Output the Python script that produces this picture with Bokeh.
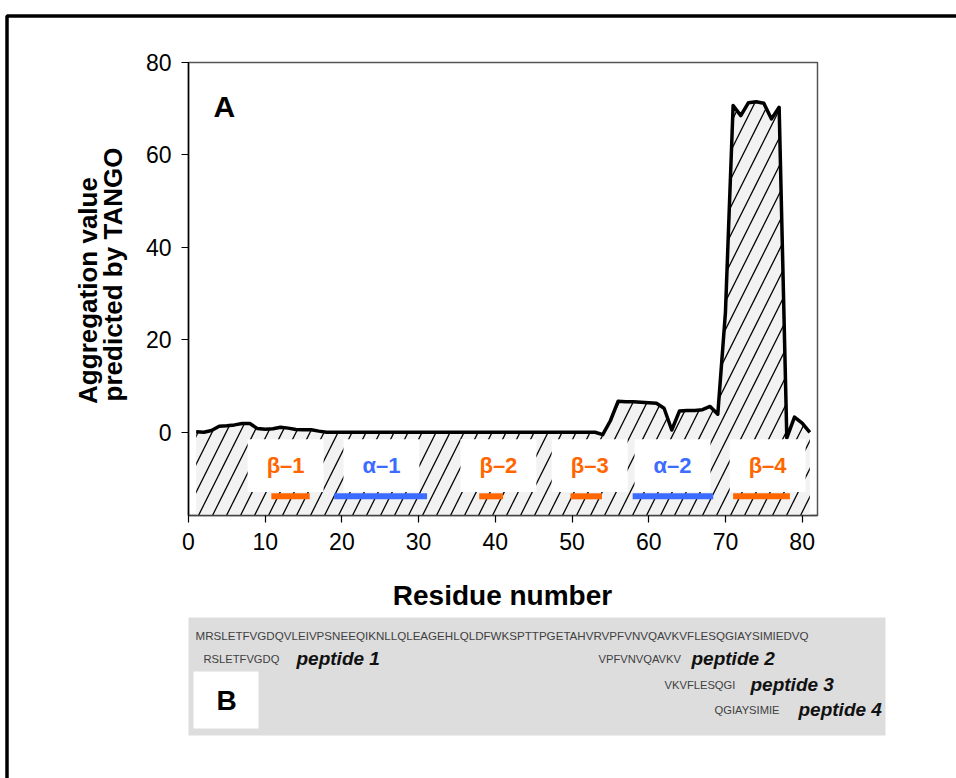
import math

from bokeh.core.properties import value
from bokeh.embed import file_html
from bokeh.models import BoxAnnotation, FixedTicker, Label, LinearAxis, Range1d
from bokeh.plotting import figure
from bokeh.resources import INLINE

# ---- TANGO aggregation profile, one value per residue -------------------
residues = list(range(1, 82))
tango = [
    0.1, 0.0, 0.4, 1.3, 1.4, 1.6, 1.9, 1.9, 0.8, 0.65,      # 1-10
    0.75, 1.1, 0.9, 0.6, 0.55, 0.55, 0.25, 0.0, 0.0, 0.0,   # 11-20
    0.0, 0.0, 0.0, 0.0, 0.0, 0.0, 0.0, 0.0, 0.0, 0.0,       # 21-30
    0.0, 0.0, 0.0, 0.0, 0.0, 0.0, 0.0, 0.0, 0.0, 0.0,       # 31-40
    0.0, 0.0, 0.0, 0.0, 0.0, 0.0, 0.0, 0.0, 0.0, 0.0,       # 41-50
    0.0, 0.0, 0.0, -0.5, 2.5, 6.7, 6.6, 6.6, 6.5, 6.4,      # 51-60
    6.3, 5.2, 0.5, 4.6, 4.7, 4.7, 4.9, 5.6, 3.9, 26.0,      # 61-70
    70.7, 68.5, 71.3, 71.5, 71.2, 67.8, 70.3, -1.2, 3.3, 2.0,  # 71-80
    0.0,                                                     # 81
]

# ---- secondary structure elements --------------------------------------
elements = ["β–1", "α–1", "β–2", "β–3", "α–2", "β–4"]
element_kind = ["beta", "alpha", "beta", "beta", "alpha", "beta"]
element_start = [10.8, 19.0, 37.9, 49.8, 57.9, 71.0]
element_end = [15.8, 31.1, 41.0, 53.9, 68.4, 78.4]
label_center = [12.66, 25.15, 40.4, 52.3, 63.1, 75.5]

# ---- sequence and peptides ---------------------------------------------
sequence = "MRSLETFVGDQVLEIVPSNEEQIKNLLQLEAGEHLQLDFWKSPTTPGETAHVRVPFVNVQAVKVFLESQGIAYSIMIEDVQ"
peptide_seqs = ["RSLETFVGDQ", "VPFVNVQAVKV", "VKVFLESQGI", "QGIAYSIMIE"]
peptide_names = ["peptide 1", "peptide 2", "peptide 3", "peptide 4"]

x_ticks = [0, 10, 20, 30, 40, 50, 60, 70, 80]
y_ticks = [0, 20, 40, 60, 80]

KIND_COLOR = {"beta": "#ff6600", "alpha": "#3b6cff"}
FONT = "Liberation Sans"

# where the profile panel sits on the 956x778 canvas
W, H = 956, 778
FL, FR, FT, FB = 188, 817, 62, 515
X0, X1 = 0, 82
Y0, Y1 = -18, 80


def dx(px):
    """canvas pixel column -> data x"""
    return X0 + (px - FL) * (X1 - X0) / (FR - FL)


def dy(py):
    """canvas pixel row (from top) -> data y"""
    return Y0 + (FB - py) * (Y1 - Y0) / (FB - FT)


# the frame covers the whole canvas; the axes are pinned to the panel corner
p = figure(
    width=W, height=H,
    x_range=Range1d(dx(0), dx(W)), y_range=Range1d(dy(H), dy(0)),
    output_backend="svg", toolbar_location=None,
    x_axis_location=None, y_axis_location=None,
    min_border=0,
)
p.background_fill_color = "white"
p.border_fill_color = "white"
p.outline_line_color = None
p.xgrid.visible = False
p.ygrid.visible = False

xaxis = LinearAxis(fixed_location=Y0, bounds=(X0, X1),
                   ticker=FixedTicker(ticks=x_ticks))
yaxis = LinearAxis(fixed_location=X0, bounds=(Y0, Y1),
                   ticker=FixedTicker(ticks=y_ticks))
for ax in (xaxis, yaxis):
    ax.axis_line_color = "black"
    ax.axis_line_width = 1.5
    ax.major_tick_line_color = "black"
    ax.major_tick_line_width = 1.2
    ax.major_tick_out = 7
    ax.major_tick_in = 0
    ax.minor_tick_out = 0
    ax.minor_tick_in = 0
    ax.major_label_text_font = FONT
    ax.major_label_text_font_size = "23px"
    ax.major_label_text_color = "black"
    ax.major_label_standoff = 10
xaxis.axis_line_color = "#444444"
p.add_layout(xaxis, "below")
p.add_layout(yaxis, "left")

# top and right edges of the profile panel
p.add_layout(BoxAnnotation(left=X0, right=X1, bottom=Y0, top=Y1, fill_color=None,
                           line_color="#555555", line_alpha=1.0, line_width=1.5,
                           level="underlay"))

# hatched area under the profile
p.varea(x=residues, y1=Y0, y2=tango, fill_color="#f2f2f2",
        hatch_pattern="/", hatch_color="black", hatch_weight=1.3,
        hatch_scale=28)
p.line(residues, tango, line_color="black", line_width=3.5,
       line_join="round")

# secondary structure boxes, bars and names
half = 4.95
p.quad(left=[c - half for c in label_center], right=[c + half for c in label_center],
       top=-1.5, bottom=-12.9, fill_color="white", line_color=None)
bar_colors = [KIND_COLOR[k] for k in element_kind]
p.quad(left=element_start, right=element_end, top=-13.2, bottom=-14.5,
       fill_color=bar_colors, line_color=None)
p.text(x=label_center, y=-7.1, text=elements, text_color=bar_colors,
       text_font=value(FONT), text_font_style="bold", text_font_size="22px",
       text_align="center", text_baseline="middle")

p.add_layout(Label(x=dx(213), y=dy(106), text="A", text_font=FONT,
                   text_font_style="bold", text_font_size="30px",
                   text_color="black", text_align="left", text_baseline="middle"))

# axis titles
p.add_layout(Label(x=dx(502), y=dy(595), text="Residue number", text_font=FONT,
                   text_font_style="bold", text_font_size="28px", text_color="black",
                   text_align="center", text_baseline="middle"))
p.add_layout(Label(x=dx(87), y=dy(290), text="Aggregation value", text_font=FONT,
                   text_font_style="bold", text_font_size="26px", angle=math.pi / 2,
                   text_color="black", text_align="center", text_baseline="middle"))
p.add_layout(Label(x=dx(112), y=dy(274), text="predicted by TANGO", text_font=FONT,
                   text_font_style="bold", text_font_size="26px", angle=math.pi / 2,
                   text_color="black", text_align="center", text_baseline="middle"))

# panel B: sequence with the synthesised peptides
p.add_layout(BoxAnnotation(left=dx(188), right=dx(885), top=dy(617), bottom=dy(735),
                           fill_color="#dddddd", fill_alpha=1.0, line_color=None))
p.add_layout(BoxAnnotation(left=dx(193), right=dx(258), top=dy(671), bottom=dy(728),
                           fill_color="white", fill_alpha=1.0, line_color=None))
p.add_layout(Label(x=dx(226), y=dy(700), text="B", text_font=FONT,
                   text_font_style="bold", text_font_size="28px", text_color="black",
                   text_align="center", text_baseline="middle"))
p.add_layout(Label(x=dx(195), y=dy(635), text=sequence, text_font=FONT,
                   text_font_size="11.6px", text_color="#404040",
                   text_align="left", text_baseline="middle"))

pep_seq_x = [203, 598, 664, 714]
pep_name_x = [296, 691, 750, 798]
pep_y = [658, 658, 684, 709]
for s, n, sx, nx, yy in zip(peptide_seqs, peptide_names, pep_seq_x, pep_name_x, pep_y):
    p.add_layout(Label(x=dx(sx), y=dy(yy), text=s, text_font=FONT,
                       text_font_size="11.2px", text_color="#404040",
                       text_align="left", text_baseline="middle"))
    p.add_layout(Label(x=dx(nx), y=dy(yy), text=n, text_font=FONT,
                       text_font_style="bold italic", text_font_size="19px",
                       text_color="#111111", text_align="left",
                       text_baseline="middle"))

# outer frame around both panels
p.add_layout(BoxAnnotation(left=dx(6.5), top=dy(15.5), right=dx(1200), bottom=dy(1000),
                           fill_color=None, line_color="black", line_alpha=1.0,
                           line_width=3.5))

open("out.html", "w").write(file_html(p, INLINE))
